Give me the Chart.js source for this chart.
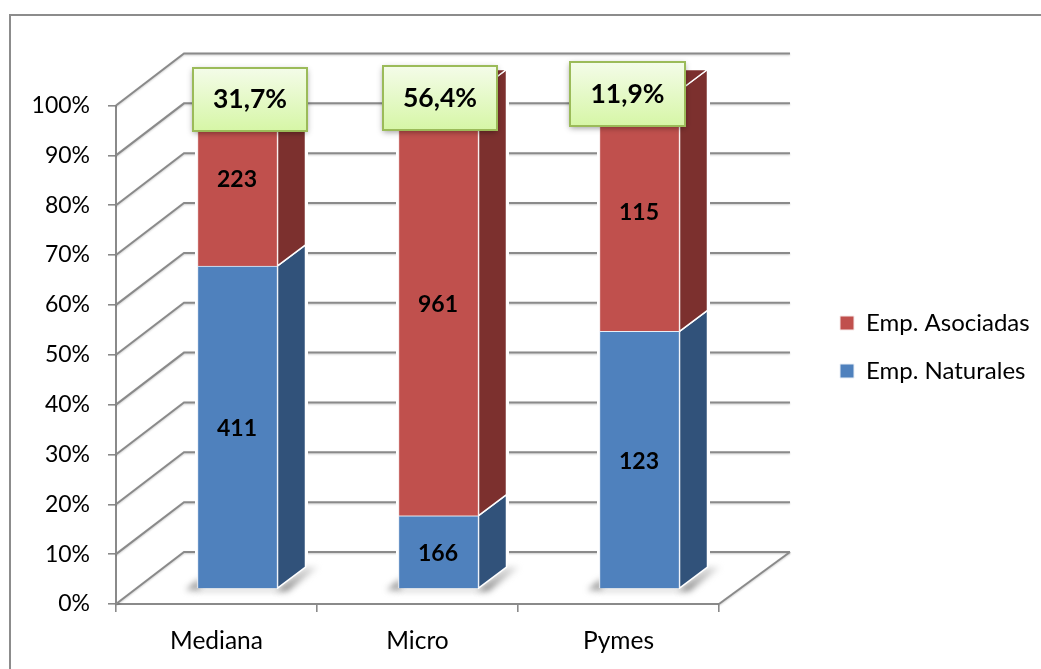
<!DOCTYPE html>
<html>
<head>
<meta charset="utf-8">
<style>
  html, body { margin: 0; padding: 0; background: #fff; overflow: hidden; }
  canvas { display: block; }
</style>
<script src="https://cdn.jsdelivr.net/npm/chart.js@4/dist/chart.umd.js"></script>
</head>
<body>
<canvas id="chart" width="1041" height="669"></canvas>
<script>
const categories = ['Mediana', 'Micro', 'Pymes'];
// share of each bar
const pctNaturales = [64.8, 14.7, 51.7];
const pctAsociadas = [35.2, 85.3, 48.3];
// numbers printed on the bars
const countNaturales = [411, 166, 123];
const countAsociadas = [223, 961, 115];
const calloutLabels = ['31,7%', '56,4%', '11,9%'];

const FONT = 'Lato, sans-serif';
const AXIS = '#8a8a8a';
const WALL = { dx: 68, dy: -52, rightDx: 71 };   // back wall offset from the front plane
const SHIFT = { x: 21, y: -15 };                 // bars stand part way into the floor
const DEPTH = { x: 28, y: -21 };                 // bar side face
const SIDE_COLORS = ['#31527a', '#7c302e'];
const calloutBoxes = [
  { l: 193, t: 68, r: 307, b: 131 },
  { l: 383, t: 66, r: 497, b: 130 },
  { l: 570, t: 62, r: 685, b: 126 }
];

function poly(ctx, pts) {
  ctx.beginPath();
  pts.forEach((p, i) => i ? ctx.lineTo(p[0], p[1]) : ctx.moveTo(p[0], p[1]));
  ctx.closePath();
}

const frame3d = {
  id: 'frame3d',
  beforeDraw(chart) {
    const ctx = chart.ctx;
    ctx.save();
    ctx.strokeStyle = '#8c8c8c';
    ctx.lineWidth = 2;
    ctx.beginPath();
    ctx.moveTo(10, 669);
    ctx.lineTo(10, 15);
    ctx.lineTo(1041, 15);
    ctx.stroke();
    ctx.restore();
  },
  beforeDatasetsDraw(chart) {
    const ctx = chart.ctx, y = chart.scales.y, x = chart.scales.x;
    const left = x.left, right = x.right;

    // back wall gridlines and the floor's right edge
    ctx.save();
    ctx.strokeStyle = AXIS;
    ctx.lineWidth = 2;
    ctx.shadowColor = 'rgba(0,0,0,0.2)';
    ctx.shadowBlur = 2;
    ctx.shadowOffsetY = 1;
    y.ticks.forEach(t => {
      const py = y.getPixelForValue(t.value);
      ctx.beginPath();
      ctx.moveTo(left, py);
      ctx.lineTo(left + WALL.dx, py + WALL.dy);
      ctx.lineTo(right + WALL.rightDx, py + WALL.dy);
      ctx.stroke();
    });
    const py0 = y.getPixelForValue(0);
    ctx.beginPath();
    ctx.moveTo(right, py0);
    ctx.lineTo(right + WALL.rightDx, py0 + WALL.dy);
    ctx.stroke();
    ctx.restore();

    // floor shadows and a white halo round each bar
    const base = chart.getDatasetMeta(0).data;
    const tops = chart.getDatasetMeta(chart.data.datasets.length - 1).data;
    base.forEach((b, i) => {
      const l = b.x - b.width / 2 + SHIFT.x, r = b.x + b.width / 2 + SHIFT.x, by = b.base + SHIFT.y;
      const ty = tops[i].y + SHIFT.y;
      ctx.save();
      ctx.strokeStyle = '#fff';
      ctx.lineWidth = 5;
      poly(ctx, [[l, by], [r, by], [r + DEPTH.x, by + DEPTH.y], [r + DEPTH.x, ty + DEPTH.y], [l, ty + DEPTH.y]]);
      ctx.stroke();
      ctx.filter = 'blur(3px)';
      const shade = ctx.createLinearGradient(r, by, r + DEPTH.x + 12, by + DEPTH.y);
      shade.addColorStop(0, 'rgba(80,80,80,0.8)');
      shade.addColorStop(1, 'rgba(170,170,170,0.3)');
      ctx.fillStyle = 'rgba(100,100,100,0.65)';
      poly(ctx, [[l - 12, by + 2], [l + 2, by - 10], [l + 2, by + 2]]);
      ctx.fill();
      ctx.fillStyle = shade;
      poly(ctx, [[r - 2, by + 3], [r + DEPTH.x, by + DEPTH.y], [r + DEPTH.x + 13, by + DEPTH.y], [r + 10, by + 3]]);
      ctx.fill();
      ctx.fillStyle = 'rgba(130,130,130,0.45)';
      ctx.fillRect(l, by, b.width, 3);
      ctx.restore();
    });

    // side faces and top, using the bars' own pixel positions
    ctx.save();
    ctx.strokeStyle = '#fff';
    ctx.lineWidth = 1.5;
    ctx.lineJoin = 'round';
    chart.data.datasets.forEach((ds, j) => {
      chart.getDatasetMeta(j).data.forEach(b => {
        const r = b.x + b.width / 2 + SHIFT.x;
        const l = b.x - b.width / 2 + SHIFT.x;
        const top = b.y + SHIFT.y, bot = b.base + SHIFT.y;
        ctx.fillStyle = SIDE_COLORS[j];
        poly(ctx, [[r, bot], [r + DEPTH.x, bot + DEPTH.y], [r + DEPTH.x, top + DEPTH.y], [r, top]]);
        ctx.fill();
        ctx.stroke();
        if (j === chart.data.datasets.length - 1) {
          poly(ctx, [[l, top], [l + DEPTH.x, top + DEPTH.y], [r + DEPTH.x, top + DEPTH.y], [r, top]]);
          ctx.fill();
          ctx.stroke();
        }
      });
    });
    ctx.restore();

    // front faces are drawn by Chart.js under this offset
    ctx.save();
    ctx.translate(SHIFT.x, SHIFT.y);
  },
  afterDatasetsDraw(chart) {
    const ctx = chart.ctx;
    ctx.restore();

    // numbers on the bars
    ctx.save();
    ctx.fillStyle = '#000';
    ctx.font = 'bold 23px ' + FONT;
    ctx.textAlign = 'center';
    ctx.textBaseline = 'middle';
    [countNaturales, countAsociadas].forEach((counts, j) => {
      chart.getDatasetMeta(j).data.forEach((b, i) => {
        ctx.fillText(counts[i], b.x + SHIFT.x - 0.5, (b.y + b.base) / 2 + SHIFT.y + 1.5);
      });
    });
    ctx.restore();

    // green callouts
    calloutBoxes.forEach((c, i) => {
      ctx.save();
      const g = ctx.createLinearGradient(0, c.t, 0, c.b);
      g.addColorStop(0, '#f4fce9');
      g.addColorStop(1, '#d6f6a6');
      ctx.shadowColor = 'rgba(0,0,0,0.4)';
      ctx.shadowBlur = 6;
      ctx.shadowOffsetY = 2;
      ctx.fillStyle = g;
      ctx.fillRect(c.l, c.t, c.r - c.l, c.b - c.t);
      ctx.shadowColor = 'transparent';
      ctx.strokeStyle = '#9bbb59';
      ctx.lineWidth = 2;
      ctx.strokeRect(c.l, c.t, c.r - c.l, c.b - c.t);
      ctx.fillStyle = '#000';
      ctx.font = 'bold 26.5px ' + FONT;
      ctx.textAlign = 'center';
      ctx.textBaseline = 'middle';
      ctx.fillText(calloutLabels[i], (c.l + c.r) / 2, (c.t + c.b) / 2);
      ctx.restore();
    });
  },
  afterLayout(chart) {
    // legend sits in the empty space right of the plot
    const lg = chart.legend;
    lg.left = 816;
    lg.right = lg.left + lg.width;
    lg.top = 287;
    lg.bottom = lg.top + lg.height;
  }
};

new Chart(document.getElementById('chart').getContext('2d'), {
  type: 'bar',
  data: {
    labels: categories,
    datasets: [
      { label: 'Emp. Naturales', data: pctNaturales, backgroundColor: '#4f81bd', borderColor: '#e8eef6', borderWidth: 1 },
      { label: 'Emp. Asociadas', data: pctAsociadas, backgroundColor: '#c0504d', borderColor: '#f6e8e8', borderWidth: 1 }
    ]
  },
  options: {
    responsive: false,
    animation: false,
    barThickness: 80,
    layout: { padding: { top: 105.5, right: 322, bottom: 0, left: 0 } },
    plugins: {
      tooltip: { enabled: false },
      legend: {
        position: 'chartArea',
        align: 'start',
        reverse: true,
        labels: {
          boxWidth: 14,
          boxHeight: 14,
          padding: 24,
          color: '#000',
          font: { family: FONT, size: 24 }
        }
      }
    },
    scales: {
      x: {
        stacked: true,
        afterFit(s) { s.height = 65; },
        border: { color: AXIS, width: 2 },
        grid: { color: AXIS, lineWidth: 1.6, drawOnChartArea: false, tickLength: 8, offset: true },
        ticks: { color: '#000', padding: 14, maxRotation: 0, font: { family: FONT, size: 24.5 } }
      },
      y: {
        stacked: true,
        min: 0,
        max: 100,
        afterFit(s) { s.width = 116; },
        border: { color: AXIS, width: 2 },
        grid: { color: AXIS, lineWidth: 1.6, drawOnChartArea: false, tickLength: 8 },
        ticks: { stepSize: 10, autoSkip: false, padding: 18, color: '#000', callback: v => v + '%', font: { family: FONT, size: 23 } }
      }
    }
  },
  plugins: [frame3d]
});
</script>
</body>
</html>
